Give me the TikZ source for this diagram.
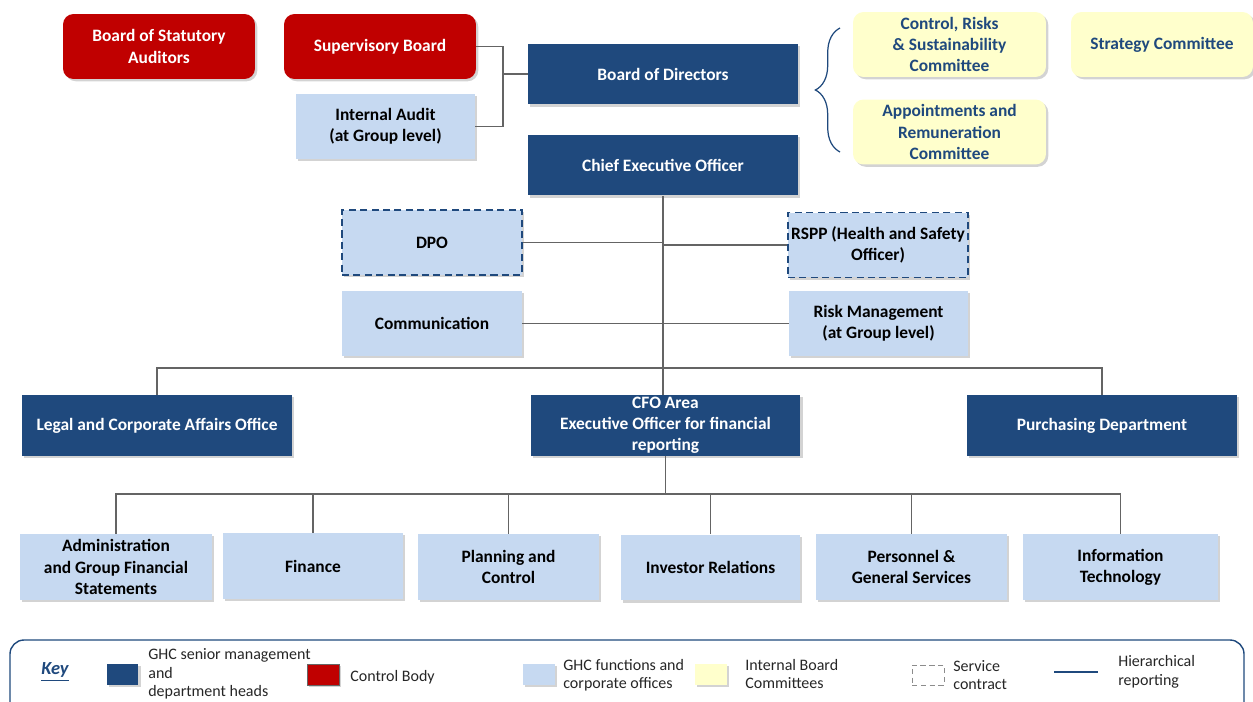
\documentclass[tikz,border=0pt]{standalone}
\usepackage{fontspec}
\setmainfont{Carlito}
\usetikzlibrary{shadows,decorations.pathreplacing}
\definecolor{ghcblue}{RGB}{31,73,125}
\definecolor{ghcred}{RGB}{192,0,0}
\definecolor{ghclight}{RGB}{198,217,241}
\definecolor{ghcyellow}{RGB}{255,255,204}
\definecolor{linkgray}{RGB}{100,100,100}

\begin{document}
\begin{tikzpicture}
  [x=0.02cm,y=-0.02cm,
   every node/.style={align=center,inner sep=1.5pt,font=\fontsize{9.9}{12}\selectfont\bfseries},
   box/.style={drop shadow={shadow xshift=1.3pt,shadow yshift=-1.3pt,opacity=.35}},
   head/.style={box,fill=ghcblue,text=white,minimum width=5.4cm,minimum height=1.22cm},
   ctrl/.style={box,fill=ghcred,text=white,rounded corners=6pt,minimum width=3.84cm,minimum height=1.3cm},
   func/.style={box,fill=ghclight,text=black,minimum height=1.3cm},
   svc/.style={func,draw=ghcblue,dash pattern=on 4pt off 2.5pt,line width=.8pt},
   cttee/.style={box,fill=ghcyellow,text=ghcblue,rounded corners=6pt,minimum width=3.86cm,minimum height=1.3cm},
   swatch/.style={box,inner sep=0pt,minimum width=0.64cm,minimum height=0.42cm},
   link/.style={draw=linkgray,line width=1pt},
   keytxt/.style={font=\fontsize{9.1}{10.5}\selectfont,text=black!85,align=left,anchor=west,inner sep=0pt}]
  \useasboundingbox (0,0) rectangle (1253,702);

  \node[ctrl] (bsa) at (159,46.5) {Board of Statutory\\Auditors};
  \node[ctrl] (sup) at (380,46.5) {Supervisory Board};
  \node[func,minimum width=3.58cm] (ia) at (385.5,126.5) {Internal Audit\\(at Group level)};
  \node[head] (bod) at (663,74) {Board of Directors};
  \node[head] (ceo) at (663,165) {Chief Executive Officer};
  \node[cttee] (crs) at (949.5,44.5) {Control, Risks\\\& Sustainability\\Committee};
  \node[cttee,minimum width=3.64cm] (strat) at (1162,44.5) {Strategy Committee};
  \node[cttee] (app) at (949.5,132) {Appointments and\\Remuneration\\Committee};

  \node[svc,minimum width=3.6cm] (dpo) at (432,242.5) {DPO};
  \node[svc,minimum width=3.6cm] (rspp) at (878,245) {RSPP (Health and Safety\\Officer)};
  \node[func,minimum width=3.6cm] (comm) at (432,323.5) {Communication};
  \node[func,minimum width=3.58cm] (risk) at (878.5,323.5) {Risk Management\\(at Group level)};

  \node[head] (legal) at (157,425.5) {Legal and Corporate Affairs Office};
  \node[head,inner sep=0pt] (cfo) at (665.5,425.5) {CFO Area\\Executive Officer for financial\\reporting};
  \node[head] (purch) at (1102,425.5) {Purchasing Department};

  \node[func,minimum width=3.84cm,minimum height=1.32cm] (adm) at (116,567) {Administration\\and Group Financial\\Statements};
  \node[func,minimum width=3.6cm,minimum height=1.32cm] (fin) at (313,566) {Finance};
  \node[func,minimum width=3.62cm,minimum height=1.32cm] (plan) at (508.5,567) {Planning and\\Control};
  \node[func,minimum width=3.58cm,minimum height=1.32cm] (inv) at (710.5,567.5) {Investor Relations};
  \node[func,minimum width=3.82cm,minimum height=1.32cm] (pers) at (911.5,567) {Personnel \&\\General Services};
  \node[func,minimum width=3.9cm,minimum height=1.32cm] (it) at (1120.5,567) {Information\\Technology};

  \coordinate (sj) at (503,74);
  \coordinate (hub) at (663,368);
  \coordinate (bus) at (665,494);
  \draw[link] (sup.east) -| (sj) |- (ia.east);
  \draw[link] (sj) -- (bod.west);
  \draw[link] (ceo.south) -- (hub);
\foreach \side in
{dpo.east, comm.east, rspp.west, risk.west}
    \draw[link] (\side) -- (\side -| ceo.south);
  \draw[link] (legal.north) |- (hub) -| (purch.north);
  \draw[link] (hub) -- (hub |- cfo.north);
  \draw[link] (cfo.south) -- (cfo.south |- bus);
  \draw[link] (adm.north) |- (bus) -| (it.north);
\foreach \unit in
{fin, plan, inv, pers}
    \draw[link] (\unit.north) -- (\unit.north |- bus);

  \draw[ghcblue,line width=.7pt,decorate,decoration={brace,amplitude=14pt}] (840,152) -- (840,28);

  \draw[ghcblue,line width=.8pt,rounded corners=8pt] (10,702) -- (10,640) -- (1244,640) -- (1244,702);
  \node[text=ghcblue,font=\fontsize{10.5}{12}\selectfont\bfseries\itshape] (key) at (55,672) {\underline{Key}};
  \node[swatch,fill=ghcblue] (k1) at (122.5,674) {};
  \node[keytxt] (t1) at (148,674) {GHC senior management\\and\\department heads};
  \node[swatch,fill=ghcred,draw=black!60] (k2) at (323,674.5) {};
  \node[keytxt] (t2) at (350,677) {Control Body};
  \node[swatch,fill=ghclight] (k3) at (538.5,674.5) {};
  \node[keytxt] (t3) at (563,675) {GHC functions and\\corporate offices};
  \node[swatch,fill=ghcyellow] (k4) at (711,674.5) {};
  \node[keytxt] (t4) at (745,674) {Internal Board\\Committees};
  \node[inner sep=0pt,minimum width=0.64cm,minimum height=0.4cm,draw=black!45,dash pattern=on 3pt off 2pt] (k5) at (928,675) {};
  \node[keytxt] (t5) at (953,675) {Service\\contract};
  \coordinate (l1) at (1054,672);
  \coordinate (l2) at (1098,672);
  \draw[ghcblue,line width=.8pt] (l1) -- (l2);
  \node[keytxt] (t6) at (1118,672) {Hierarchical\\reporting};
\end{tikzpicture}
\end{document}
